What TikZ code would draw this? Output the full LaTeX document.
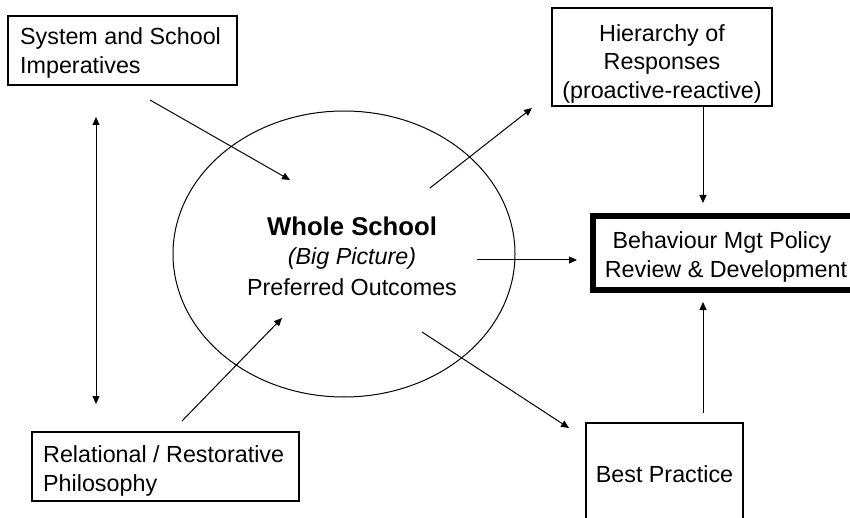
\documentclass[tikz,border=0pt]{standalone}
\usepackage{fontspec}
\setmainfont{Liberation Sans}
\usetikzlibrary{arrows.meta,shapes.geometric}
\begin{document}
\begin{tikzpicture}[x=1pt,y=-1pt,
  boxshape/.style={draw, line width=1.1pt, inner sep=0pt},
  txt/.style={inner sep=0pt, font=\fontsize{23.3}{28.8}\selectfont},
  conn/.style={line width=1pt, -{Triangle[length=8pt,width=7pt]}},
  dconn/.style={line width=1pt, {Triangle[length=8pt,width=7pt]}-{Triangle[length=8pt,width=7pt]}}]
\useasboundingbox (0,0) rectangle (850,518);
\clip (0,0) rectangle (850,518);
\fill[white] (0,0) rectangle (850,518);

% boxes
\node[boxshape, minimum width=229pt, minimum height=69pt] (sys) at (122.5,50.5) {};
\node[txt, anchor=north west, align=left] (systxt) at (20,27.5) {System and School\\Imperatives};

\node[boxshape, minimum width=220pt, minimum height=98pt] (hier) at (662,57) {};
\node[txt, anchor=north, align=center] (hiertxt) at (662,24) {Hierarchy of\\Responses\\(proactive-reactive)};

\node[draw, line width=6pt, inner sep=0pt, minimum width=262pt, minimum height=74pt] (beh) at (724,253) {};
\node[txt, anchor=north, align=center] (behtxt) at (726,231.5) {Behaviour Mgt Policy\hspace*{8pt}\\Review \& Development};

\node[boxshape, minimum width=157pt, minimum height=102pt] (best) at (664.5,474) {};
\node[txt, anchor=north] (besttxt) at (664.5,465.5) {Best Practice};

\node[boxshape, minimum width=267pt, minimum height=69pt] (rel) at (165.5,466.5) {};
\node[txt, anchor=north west, align=left] (reltxt) at (43,445.5) {Relational / Restorative\\Philosophy};

% ellipse
\node[draw, ellipse, line width=1pt, inner sep=0pt, minimum width=342pt, minimum height=286pt] (ell) at (344,254) {};
\node[txt, anchor=north, align=center, font=\fontsize{23.3}{31}\selectfont] (elltxt) at (352,216.5)
  {{\fontsize{25.7}{31}\selectfont\bfseries Whole School}\\[-1.5pt]{\itshape (Big Picture)}\\Preferred Outcomes};

% connector end points
\coordinate (a1s) at (150,100);  \coordinate (a1e) at (290,180);
\coordinate (a2s) at (430,188);  \coordinate (a2e) at (532,108);
\coordinate (a3s) at (477,260);  \coordinate (a3e) at (577,260);
\coordinate (a4s) at (182,421);  \coordinate (a4e) at (282,318);
\coordinate (a5s) at (422,332);  \coordinate (a5e) at (569,428);
\coordinate (a6s) at (96,117);   \coordinate (a6e) at (96,404);
\coordinate (a7e) at (703,203);
\coordinate (a8s) at (703,413);  \coordinate (a8e) at (703,302);

\draw[conn] (a1s) -- (a1e);
\draw[conn] (a2s) -- (a2e);
\draw[conn] (a3s) -- (a3e);
\draw[conn] (a4s) -- (a4e);
\draw[conn] (a5s) -- (a5e);
\draw[dconn] (a6s) -- (a6e);
\draw[conn] (hier.south -| a7e) -- (a7e);
\draw[conn] (a8s) -- (a8e);
\end{tikzpicture}
\end{document}
